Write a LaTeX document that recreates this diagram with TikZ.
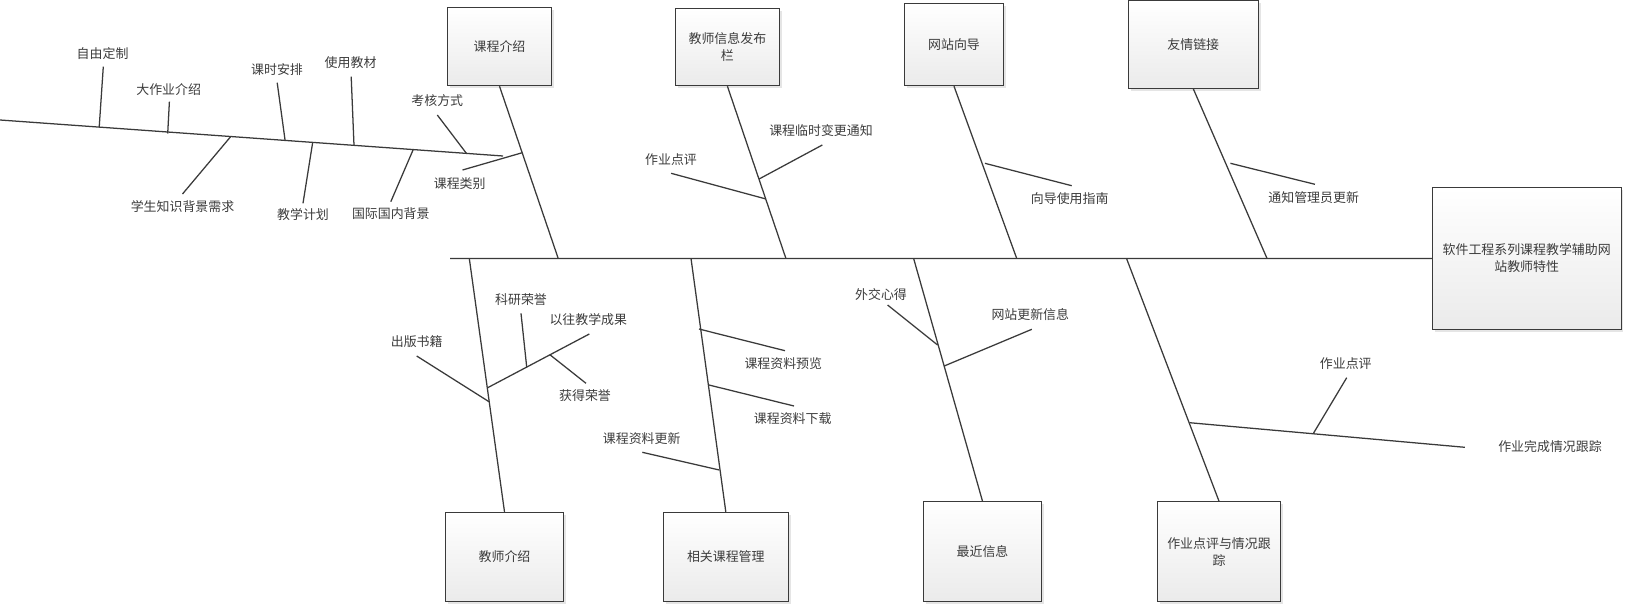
\documentclass[tikz,border=0pt]{standalone}
\usepackage{fontspec}
\setmainfont{Noto Sans CJK SC}
\usetikzlibrary{shadows}
\definecolor{ink}{HTML}{3A3A3A}
\definecolor{txt}{HTML}{3C3C3C}
\tikzset{
  bone/.style={draw=ink, line width=0.95pt},
  catbox/.style={draw=ink, line width=0.8pt, top color=white, bottom color=black!8,
    drop shadow={shadow xshift=1.8pt, shadow yshift=-1.8pt, fill=black!10, opacity=1},
    font=\fontsize{9.7}{12.75}\selectfont, text=txt, align=center, inner sep=2pt},
  lbl/.style={font=\fontsize{9.7}{12}\selectfont, text=txt, inner sep=0pt},
}
\begin{document}
\begin{tikzpicture}[x=0.75pt, y=-0.75pt]
\useasboundingbox (0,0) rectangle (1625,604);

% ---- category boxes ----
\node[catbox, minimum width=78.4pt, minimum height=58.8pt] (kc) at (499.5,46.5) {课程介绍};
\node[catbox, minimum width=78pt, minimum height=58pt] (jx) at (727.4,47) {教师信息发布\\栏};
\node[catbox, minimum width=74pt, minimum height=61.8pt] (wz) at (954,44.5) {网站向导};
\node[catbox, minimum width=97.5pt, minimum height=65.7pt] (yq) at (1193.3,44.5) {友情链接};
\node[catbox, minimum width=141.5pt, minimum height=106.2pt] (head) at (1526.7,258.5) {软件工程系列课程教学辅助网\\站教师特性};
\node[catbox, minimum width=88.2pt, minimum height=67pt] (js) at (504.5,557) {教师介绍};
\node[catbox, minimum width=93.75pt, minimum height=67pt] (xg) at (725.8,557) {相关课程管理};
\node[catbox, minimum width=88.3pt, minimum height=75pt] (zj) at (982.5,551.7) {最近信息};
\node[catbox, minimum width=92.4pt, minimum height=75pt] (zy) at (1219,551.7) {作业点评与情况跟\\踪};

% ---- main spine and bones ----
\coordinate (tail) at (450,258.4);
\coordinate (s1) at (558.2,258.4);
\coordinate (s2) at (785.9,258.4);
\coordinate (s3) at (1016.7,258.4);
\coordinate (s4) at (1267,258.4);
\coordinate (d1) at (469.3,258.4);
\coordinate (d2) at (691,258.4);
\coordinate (d3) at (913.6,258.4);
\coordinate (d4) at (1126.5,258.4);
\draw[bone] (tail) -- (head.west);
\draw[bone] (kc.south) -- (s1);
\draw[bone] (jx.south) -- (s2);
\draw[bone] (wz.south) -- (s3);
\draw[bone] (yq.south) -- (s4);
\draw[bone] (js.north) -- (d1);
\draw[bone] (xg.north) -- (d2);
\draw[bone] (zj.north) -- (d3);
\draw[bone] (zy.north) -- (d4);

% ---- left spine with its ticks ----
\coordinate (lsA) at (0,120);
\coordinate (lsB) at (503,156);
\draw[bone] (lsA) -- (lsB);

\node[lbl] (a1) at (102.6,53.3) {自由定制};
\coordinate (a1t) at (103.3,66.7); \coordinate (a1b) at (99.2,127.3);
\draw[bone] (a1t) -- (a1b);
\node[lbl] (a2) at (168.7,89.3) {大作业介绍};
\coordinate (a2t) at (169.4,101.7); \coordinate (a2b) at (167.7,133.5);
\draw[bone] (a2t) -- (a2b);
\node[lbl] (a3) at (277,69.3) {课时安排};
\coordinate (a3t) at (277.2,82.7); \coordinate (a3b) at (285.1,140.4);
\draw[bone] (a3t) -- (a3b);
\node[lbl] (a4) at (350.6,62.7) {使用教材};
\coordinate (a4t) at (351.2,76.7); \coordinate (a4b) at (354,145.4);
\draw[bone] (a4t) -- (a4b);
\node[lbl] (a5) at (437.3,100.7) {考核方式};
\coordinate (a5t) at (437.3,115); \coordinate (a5b) at (466.6,153.6);
\draw[bone] (a5t) -- (a5b);
\node[lbl] (a6) at (182.5,206.7) {学生知识背景需求};
\coordinate (a6t) at (230.7,136.6); \coordinate (a6b) at (182.5,194);
\draw[bone] (a6t) -- (a6b);
\node[lbl] (a7) at (303,215) {教学计划};
\coordinate (a7t) at (312.7,142.3); \coordinate (a7b) at (303,203.3);
\draw[bone] (a7t) -- (a7b);
\node[lbl] (a8) at (390.8,213.3) {国际国内背景};
\coordinate (a8t) at (413.2,149.6); \coordinate (a8b) at (390.8,201.7);
\draw[bone] (a8t) -- (a8b);
\node[lbl] (a9) at (459.7,183.3) {课程类别};
\coordinate (a9a) at (462.5,170); \coordinate (a9b) at (522.3,152.7);
\draw[bone] (a9a) -- (a9b);

% ---- 教师信息发布栏 ----
\node[lbl] (b1) at (821,131) {课程临时变更通知};
\coordinate (b1a) at (822.3,145); \coordinate (b1b) at (759.1,179);
\draw[bone] (b1a) -- (b1b);
\node[lbl] (b2) at (671,159.3) {作业点评};
\coordinate (b2a) at (671.1,173.3); \coordinate (b2b) at (766,199);
\draw[bone] (b2a) -- (b2b);

% ---- 网站向导 ----
\node[lbl] (c1) at (1069.7,198.3) {向导使用指南};
\coordinate (c1a) at (1071.7,185.7); \coordinate (c1b) at (984.9,163.3);
\draw[bone] (c1a) -- (c1b);

% ---- 友情链接 ----
\node[lbl] (e1) at (1313.7,197.7) {通知管理员更新};
\coordinate (e1a) at (1314.9,184.3); \coordinate (e1b) at (1230.4,163.3);
\draw[bone] (e1a) -- (e1b);

% ---- 教师介绍 ----
\node[lbl] (f1) at (416.7,341.7) {出版书籍};
\coordinate (f1a) at (416.7,356); \coordinate (f1b) at (489,401.7);
\draw[bone] (f1a) -- (f1b);
\node[lbl] (f2) at (588.3,320) {以往教学成果};
\coordinate (f2a) at (589.3,334); \coordinate (f2b) at (487.3,387.9);
\draw[bone] (f2a) -- (f2b);
\node[lbl] (f3) at (521,299.3) {科研荣誉};
\coordinate (f3a) at (521,313.3); \coordinate (f3b) at (526.7,367);
\draw[bone] (f3a) -- (f3b);
\node[lbl] (f4) at (585,395.7) {获得荣誉};
\coordinate (f4a) at (586,383.3); \coordinate (f4b) at (550,354.8);
\draw[bone] (f4a) -- (f4b);

% ---- 相关课程管理 ----
\node[lbl] (g1) at (783.3,363.3) {课程资料预览};
\coordinate (g1a) at (785,350.7); \coordinate (g1b) at (699,329);
\draw[bone] (g1a) -- (g1b);
\node[lbl] (g2) at (792.7,418.3) {课程资料下载};
\coordinate (g2a) at (794,406); \coordinate (g2b) at (709,385);
\draw[bone] (g2a) -- (g2b);
\node[lbl] (g3) at (641.7,439) {课程资料更新};
\coordinate (g3a) at (642.3,452.3); \coordinate (g3b) at (719.3,470);
\draw[bone] (g3a) -- (g3b);

% ---- 最近信息 ----
\node[lbl] (h1) at (881,295) {外交心得};
\coordinate (h1a) at (887.6,305); \coordinate (h1b) at (937.6,345);
\draw[bone] (h1a) -- (h1b);
\node[lbl] (h2) at (1030.3,315) {网站更新信息};
\coordinate (h2a) at (1031.8,329.3); \coordinate (h2b) at (944.2,366);
\draw[bone] (h2a) -- (h2b);

% ---- 作业点评与情况跟踪 ----
\node[lbl] (k1) at (1550,446.7) {作业完成情况跟踪};
\coordinate (k1a) at (1464.9,447.3); \coordinate (k1b) at (1189.5,422.7);
\draw[bone] (k1a) -- (k1b);
\node[lbl] (k2) at (1345.8,363.3) {作业点评};
\coordinate (k2a) at (1346.7,377.7); \coordinate (k2b) at (1313.2,433.7);
\draw[bone] (k2a) -- (k2b);
\end{tikzpicture}
\end{document}
